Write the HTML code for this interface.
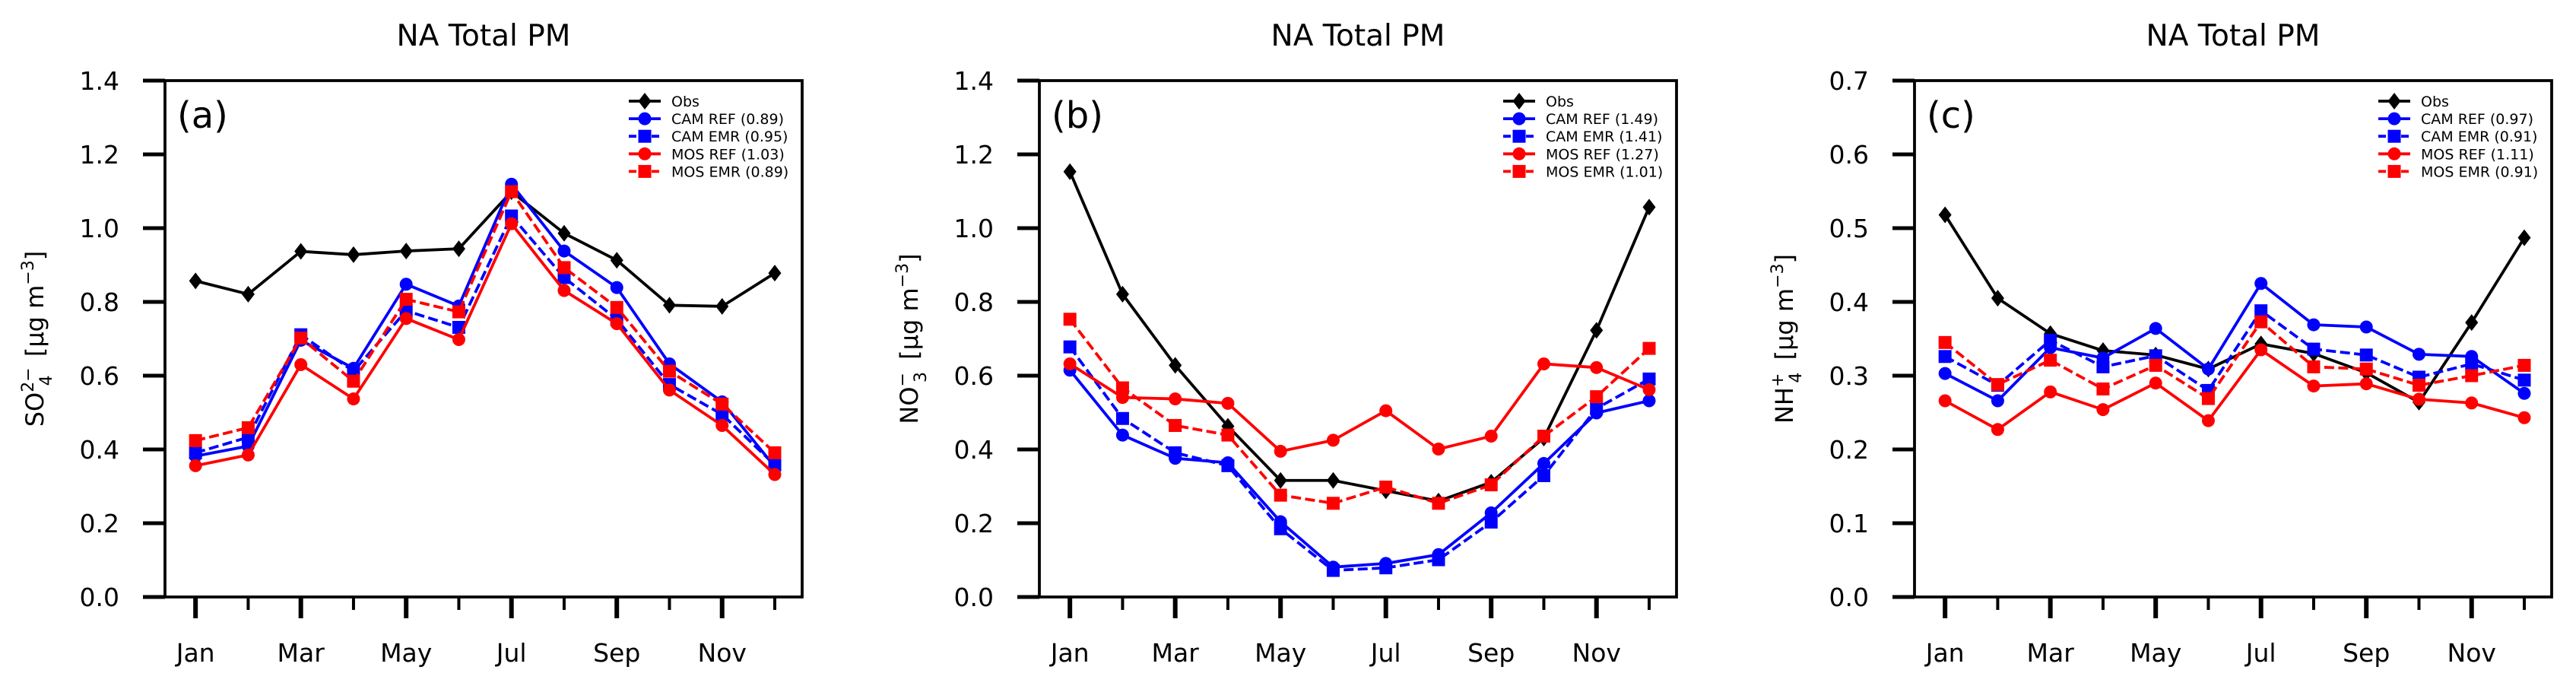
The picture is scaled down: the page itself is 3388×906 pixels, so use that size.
<!DOCTYPE html>
<html><head><meta charset="utf-8">
<style>
html,body{margin:0;padding:0;background:#fff;}
svg{display:block;font-family:"DejaVu Sans","Liberation Sans",sans-serif;}
</style></head>
<body>
<svg id="fig" xmlns="http://www.w3.org/2000/svg" width="3388" height="906" viewBox="0 0 3388 906">
<rect width="3388" height="906" fill="#fff"/>
</svg>
<script>
const months = ["Jan","Feb","Mar","Apr","May","Jun","Jul","Aug","Sep","Oct","Nov","Dec"];
const monthLabels = ["Jan","Mar","May","Jul","Sep","Nov"];
const seriesNames = ["Obs","CAM REF","CAM EMR","MOS REF","MOS EMR"];

const so4Obs    = [0.857,0.821,0.937,0.928,0.938,0.944,1.099,0.986,0.913,0.791,0.788,0.878];
const so4CamRef = [0.382,0.409,0.696,0.620,0.848,0.789,1.119,0.938,0.839,0.632,0.529,0.353];
const so4CamEmr = [0.391,0.433,0.711,0.612,0.776,0.731,1.033,0.866,0.753,0.576,0.495,0.358];
const so4MosRef = [0.356,0.385,0.630,0.537,0.755,0.698,1.012,0.831,0.741,0.561,0.465,0.332];
const so4MosEmr = [0.424,0.459,0.702,0.585,0.807,0.773,1.099,0.893,0.785,0.612,0.523,0.391];
const so4Legend = ["Obs","CAM REF (0.89)","CAM EMR (0.95)","MOS REF (1.03)","MOS EMR (0.89)"];
const so4Ticks  = ["0.0","0.2","0.4","0.6","0.8","1.0","1.2","1.4"];

const no3Obs    = [1.153,0.821,0.628,0.463,0.316,0.316,0.288,0.260,0.311,0.431,0.723,1.057];
const no3CamRef = [0.615,0.439,0.376,0.364,0.204,0.081,0.091,0.115,0.228,0.362,0.499,0.532];
const no3CamEmr = [0.678,0.484,0.391,0.356,0.185,0.072,0.079,0.101,0.203,0.329,0.511,0.591];
const no3MosRef = [0.632,0.541,0.537,0.525,0.395,0.425,0.505,0.401,0.436,0.632,0.622,0.562];
const no3MosEmr = [0.753,0.567,0.465,0.439,0.276,0.254,0.298,0.254,0.304,0.436,0.543,0.674];
const no3Legend = ["Obs","CAM REF (1.49)","CAM EMR (1.41)","MOS REF (1.27)","MOS EMR (1.01)"];
const no3Ticks  = ["0.0","0.2","0.4","0.6","0.8","1.0","1.2","1.4"];

const nh4Obs    = [0.518,0.405,0.357,0.334,0.328,0.309,0.343,0.330,0.304,0.264,0.372,0.487];
const nh4CamRef = [0.303,0.266,0.338,0.324,0.364,0.309,0.425,0.369,0.366,0.329,0.326,0.276];
const nh4CamEmr = [0.326,0.287,0.348,0.312,0.327,0.280,0.388,0.336,0.328,0.298,0.316,0.294];
const nh4MosRef = [0.266,0.227,0.278,0.254,0.290,0.239,0.335,0.286,0.289,0.268,0.263,0.243];
const nh4MosEmr = [0.345,0.288,0.321,0.282,0.314,0.269,0.373,0.312,0.309,0.287,0.300,0.314];
const nh4Legend = ["Obs","CAM REF (0.97)","CAM EMR (0.91)","MOS REF (1.11)","MOS EMR (0.91)"];
const nh4Ticks  = ["0.0","0.1","0.2","0.3","0.4","0.5","0.6","0.7"];

const NS = "http://www.w3.org/2000/svg";
const svg = document.getElementById("fig");
function mk(tag, attrs, parent){
  const e = document.createElementNS(NS, tag);
  for (const k in attrs) e.setAttribute(k, attrs[k]);
  (parent||svg).appendChild(e);
  return e;
}
const styles = [
  {color:"#000000", marker:"diamond", dash:null},
  {color:"#0000ff", marker:"circle", dash:null},
  {color:"#0000ff", marker:"square", dash:"13 5.5"},
  {color:"#ff0000", marker:"circle", dash:null},
  {color:"#ff0000", marker:"square", dash:"13 5.5"}
];
const markerNames = ["obs","cam-ref","cam-emr","mos-ref","mos-emr"];

function drawMarker(g, type, x, y, color){
  let m;
  if (type === "circle") m = mk("circle",{cx:x,cy:y,r:8.5,fill:color},g);
  else if (type === "square") m = mk("rect",{x:x-8.5,y:y-8.5,width:17,height:17,fill:color},g);
  else m = mk("polygon",{points:`${x},${y-11} ${x+8.5},${y} ${x},${y+11} ${x-8.5},${y}`,fill:color},g);
  return m;
}

const TOP = 106, BOT = 785, W = 838;

function panel(left, ymax, ticks, data, legend, letter, ylabelParts, key){
  const g = mk("g",{});
  
  
  const xs = i => left + (i + 0.58) * (W / 12.1);
  const ys = v => BOT - v / ymax * (BOT - TOP);

  const t = mk("text",{x:left+W/2,y:60,"text-anchor":"middle","font-size":39,fill:"#000"},g);
  t.textContent = "NA Total PM";
  
  

  ticks.forEach((lab, i) => {
    const v = ymax * i / (ticks.length - 1);
    const y = ys(v);
    const tk = mk("line",{x1:left-29,x2:left,y1:y,y2:y,stroke:"#000","stroke-width":5},g);
    
    
    const tl = mk("text",{x:left-60,y:y+12,"text-anchor":"end","font-size":33,fill:"#000"},g);
    tl.textContent = lab;
    
    
  });
  months.forEach((m, i) => {
    const x = xs(i);
    const major = i % 2 === 0;
    const tk = mk("line",{x1:x,x2:x,y1:BOT,y2:BOT+(major?28:17),stroke:"#000","stroke-width":major?6:4},g);
    
    
  });
  monthLabels.forEach((m, j) => {
    const x = xs(j*2);
    const tl = mk("text",{x:x,y:870,"text-anchor":"middle","font-size":33,fill:"#000"},g);
    tl.textContent = m;
    
    
  });

  const yl = mk("text",{transform:`translate(${left-160},${(TOP+BOT)/2}) rotate(-90)`,"text-anchor":"middle","font-size":32,fill:"#000"},g);
  
  
  ylabelParts.forEach(p => {
    const ts = mk("tspan",{},yl);
    if (p.dy) ts.setAttribute("dy", p.dy);
    if (p.dx) ts.setAttribute("dx", p.dx);
    if (p.fs) ts.setAttribute("font-size", p.fs);
    ts.textContent = p.t;
  });

  const clip = mk("g",{},g);
  data.forEach((arr, s) => {
    const st = styles[s];
    const sg = mk("g",{},clip);
    
    
    const pts = arr.map((v,i) => xs(i)+","+ys(v)).join(" ");
    const pl = mk("polyline",{points:pts,fill:"none",stroke:st.color,"stroke-width":3.8,"stroke-linejoin":"round"},sg);
    if (st.dash) pl.setAttribute("stroke-dasharray", st.dash);
    
    
    arr.forEach((v,i) => {
      const mm = drawMarker(sg, st.marker, xs(i), ys(v), st.color);
      
      
    });
  });

  const fr = mk("rect",{x:left,y:TOP,width:W,height:BOT-TOP,fill:"none",stroke:"#000","stroke-width":3.8},g);
  
  

  const pl = mk("text",{x:left+16,y:168,"font-size":48,fill:"#000"},g);
  pl.textContent = letter;
  
  

  const lg = mk("g",{},g);
  
  
  legend.forEach((lab, s) => {
    const st = styles[s];
    const y = 133 + s * 23.1;
    const e = mk("g",{},lg);
    
    
    const ln = mk("line",{x1:left+610,x2:left+652,y1:y,y2:y,stroke:st.color,"stroke-width":3.8},e);
    if (st.dash) ln.setAttribute("stroke-dasharray","10 5");
    drawMarker(e, st.marker, left+631, y, st.color);
    const tx = mk("text",{x:left+666,y:y+7,"font-size":19,fill:"#000"},e);
    tx.textContent = lab;
  });
}

panel(217, 1.4, so4Ticks, [so4Obs,so4CamRef,so4CamEmr,so4MosRef,so4MosEmr], so4Legend, "(a)",
  [{t:"SO"},{t:"2−",dy:-13,fs:22},{t:"4",dx:-24,dy:24,fs:22},{t:"  [μg m",dy:-11,dx:14},{t:"−3",dy:-13,fs:22},{t:"]",dy:13}], "a");
panel(1367, 1.4, no3Ticks, [no3Obs,no3CamRef,no3CamEmr,no3MosRef,no3MosEmr], no3Legend, "(b)",
  [{t:"NO"},{t:"−",dy:-13,fs:22},{t:"3",dx:-13,dy:24,fs:22},{t:" [μg m",dy:-11,dx:6},{t:"−3",dy:-13,fs:22},{t:"]",dy:13}], "b");
panel(2518, 0.7, nh4Ticks, [nh4Obs,nh4CamRef,nh4CamEmr,nh4MosRef,nh4MosEmr], nh4Legend, "(c)",
  [{t:"NH"},{t:"+",dy:-13,fs:22},{t:"4",dx:-13,dy:24,fs:22},{t:" [μg m",dy:-11,dx:6},{t:"−3",dy:-13,fs:22},{t:"]",dy:13}], "c");
</script>
</body></html>
